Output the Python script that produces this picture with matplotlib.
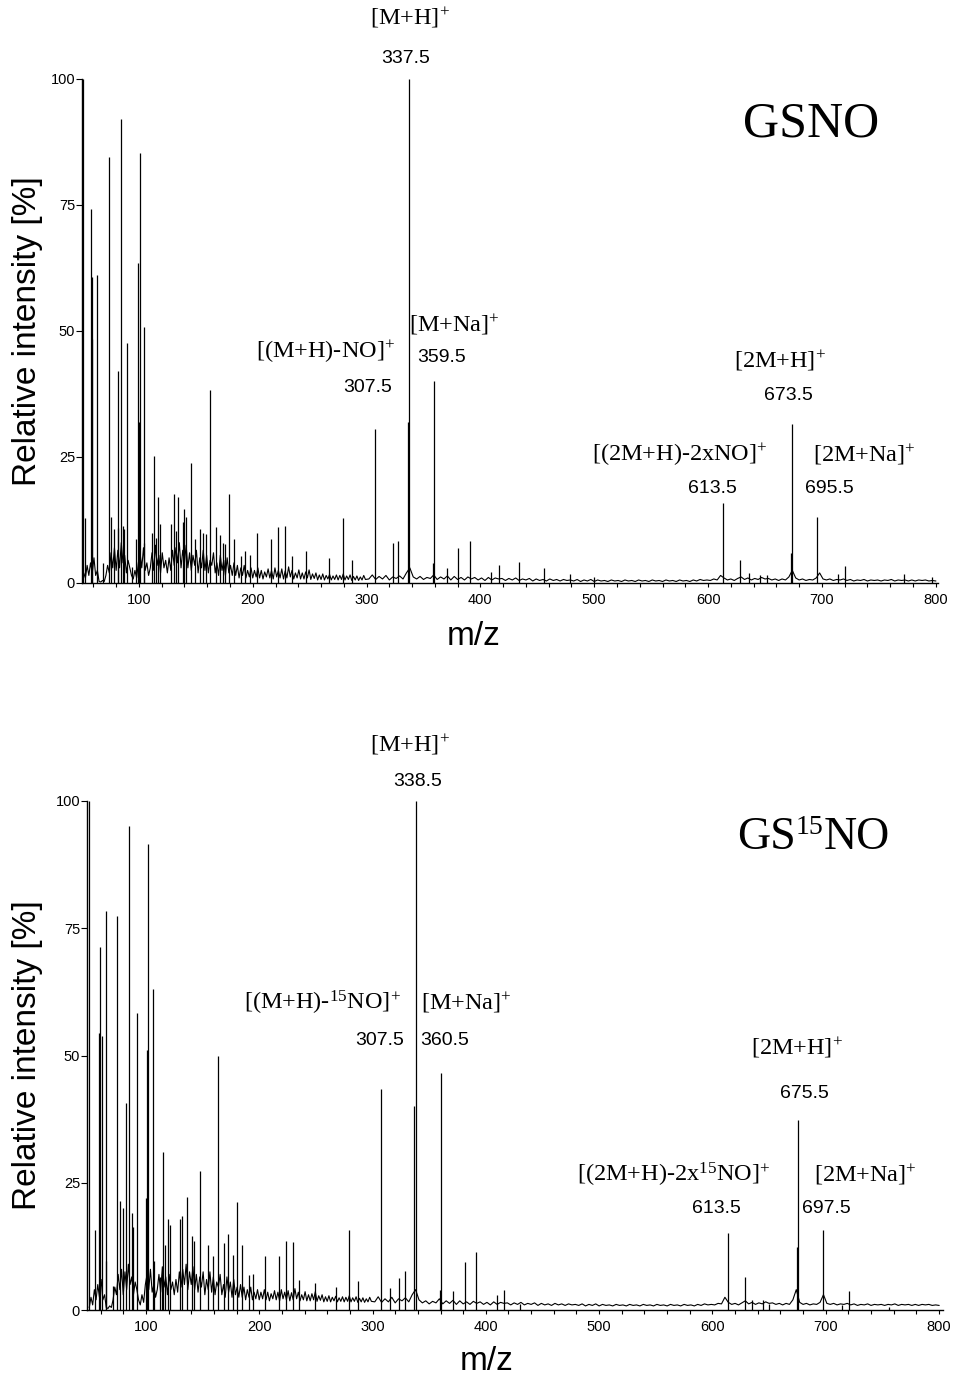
import numpy as np
import matplotlib
matplotlib.use('Agg')
import matplotlib.pyplot as plt
from matplotlib.ticker import MultipleLocator

plt.rcParams['font.family'] = ['Liberation Sans', 'DejaVu Sans']
plt.rcParams['mathtext.fontset'] = 'custom'
plt.rcParams['mathtext.rm'] = 'Liberation Serif'
plt.rcParams['mathtext.it'] = 'Liberation Serif:italic'
plt.rcParams['mathtext.bf'] = 'Liberation Serif:bold'

SERIF = 'Liberation Serif'

# ---------------- GSNO (top) ----------------
gsno_peak_mz = [50.5, 53, 58.2, 58.8, 59.1, 63.2, 68.5, 73.5, 75.2, 77.9, 81.4, 82,
                84, 86, 87.3, 89.9, 94, 97.8, 99.6, 100.4, 101.3, 104.3, 104.8, 111.3,
                113.4, 114.8, 117.2, 118.6, 128.3, 131, 133, 134.2, 138.3, 140, 141,
                145.6, 149.1, 153.5, 156.5, 158.5, 162.6, 167.3, 171.4, 173.5, 175.8,
                179, 183.4, 189.6, 193.1, 197.5, 203.7, 216, 222.2, 228.3, 234.2,
                246.8, 267, 279, 287, 307.5, 323, 328, 336, 337.5, 358.5, 359.5,
                371, 380.3, 391, 409, 416.7, 434.3, 455.9, 478.4, 500,
                613.5, 627.9, 635.6, 646, 652, 672.5, 673.5, 695.5, 714, 720, 772, 797]
gsno_peak_int = [100, 12.8, 74.3, 60.7, 48.4, 61.2, 4, 84.6, 13, 10.7, 11, 42,
                 92, 11.4, 10.7, 47.7, 3.2, 8.7, 63.4, 32, 85.3, 50.8, 8, 10,
                 25.1, 9, 17, 11.8, 11.8, 17.7, 10.4, 17, 12.1, 14.6, 13,
                 23.9, 8.7, 10.7, 10, 9.7, 38.2, 11.1, 9.5, 8, 7.7,
                 17.7, 8.7, 5.3, 6.3, 5.6, 9.9, 8.7, 11.1, 11.4, 5.3,
                 6.3, 4.9, 12.8, 4.6, 30.6, 8, 8.3, 32, 100, 4, 40,
                 3, 7, 8.3, 2.2, 3.5, 4.1, 3, 1.7, 1.1,
                 15.8, 4.5, 2, 1.5, 1.5, 6, 31.5, 13, 1.8, 3.3, 1.7, 1.2]

# baseline noise: every 1.5 m/z from 50 to 299, then every 3 m/z from 302 to 800
gsno_base_lo = [
    0.5, 2.0, 1.0, 3.5, 1.5, 4.0, 2.0, 5.0, 1.5, 2.5,
    0.3, 0.2, 0.5, 0.3, 1.5, 3.5, 2.0, 6.0, 3.0, 7.0,
    2.5, 6.5, 3.0, 8.0, 4.0, 5.5, 2.0, 4.5, 3.0, 1.5,
    0.8, 2.5, 1.0, 4.0, 6.0, 3.0, 7.0, 2.5, 4.0, 1.5,
    3.0, 6.0, 2.5, 7.5, 3.5, 5.5, 2.0, 6.0, 3.0, 4.5,
    2.0, 5.0, 2.5, 6.5, 3.5, 7.0, 4.0, 8.0, 3.0, 6.5,
    4.0, 7.5, 3.0, 6.0, 2.5, 5.5, 3.5, 6.5, 2.0, 5.0,
    3.0, 6.5, 2.5, 5.5, 2.0, 4.5, 3.5, 6.0, 2.0, 4.0,
    1.5, 5.5, 2.5, 4.5, 1.5, 5.0, 2.0, 3.5, 1.5, 4.0,
    1.5, 3.5, 1.0, 3.0, 1.5, 3.5, 1.0, 2.5, 1.2, 3.0,
    1.0, 2.5, 1.2, 3.0, 1.0, 2.5, 0.8, 2.2, 1.2, 2.8,
    1.0, 2.5, 0.8, 3.0, 1.2, 2.5, 1.0, 2.8, 0.8, 2.4,
    1.0, 3.2, 1.2, 2.5, 0.8, 2.0, 1.0, 2.6, 0.8, 2.0,
    0.8, 2.2, 1.0, 2.6, 0.7, 1.8, 0.9, 2.0, 0.6, 1.6,
    0.7, 1.8, 0.6, 1.5, 0.8, 1.7, 0.6, 1.4, 0.7, 1.6,
    0.6, 1.5, 0.7, 1.8, 0.6, 1.4, 0.7, 1.6, 0.5, 1.3,
    0.6, 1.4, 0.5, 1.2, 0.6, 1.5, 0.7]
gsno_base_hi = [
    0.8, 1.6, 0.7, 1.3, 0.8, 1.5, 0.6, 1.2, 0.9, 1.4,
    0.8, 2.0, 3.0, 1.2, 0.8, 1.3, 0.7, 1.1, 0.9, 1.6,
    0.7, 1.2, 0.8, 1.4, 0.6, 1.3, 0.7, 1.1, 0.6, 1.2,
    0.8, 1.1, 0.6, 1.0, 0.5, 1.1, 0.6, 1.0, 0.8, 0.9,
    0.5, 0.9, 0.6, 1.0, 0.5, 0.8, 0.6, 0.9, 0.4, 0.8,
    0.5, 0.7, 0.4, 0.8, 0.5, 0.7, 0.4, 0.7, 0.5, 0.6,
    0.4, 0.7, 0.3, 0.6, 0.4, 0.7, 0.3, 0.6, 0.4, 0.5,
    0.3, 0.6, 0.4, 0.5, 0.3, 0.6, 0.4, 0.5, 0.3, 0.6,
    0.4, 0.5, 0.3, 0.6, 0.4, 0.5, 0.3, 0.6, 0.4, 0.5,
    0.3, 0.6, 0.4, 0.5, 0.3, 0.6, 0.4, 0.7, 0.5, 0.6,
    0.5, 0.8, 0.6, 1.5, 1.0, 0.6, 0.8, 0.5, 0.9, 1.2,
    0.7, 1.0, 0.6, 0.9, 0.7, 1.1, 0.8, 0.9, 0.6, 0.8,
    0.5, 0.8, 0.6, 1.2, 2.5, 1.0, 0.6, 0.8, 0.5, 0.7,
    0.6, 1.0, 2.0, 0.8, 0.6, 0.8, 0.5, 0.7, 0.6, 0.8,
    0.5, 0.7, 0.4, 0.6, 0.5, 0.7, 0.4, 0.6, 0.5, 0.6,
    0.4, 0.6, 0.5, 0.7, 0.4, 0.6, 0.5, 0.6, 0.4, 0.6,
    0.4, 0.6, 0.5, 0.6, 0.4, 0.5, 0.4]

# ---------------- GS15NO (bottom) ----------------
gs15no_peak_mz = [49.5, 55.3, 59, 59.9, 60.8, 64.8, 65.2, 70.6, 74.4, 77.3, 80, 82.8,
                  85.2, 88, 88.9, 91.8, 100.3, 101.2, 102, 106, 107.2, 112.5, 114.2,
                  115.3, 116.7, 119.1, 120.9, 129.9, 132.2, 136, 140.9, 142.3, 147.3,
                  154.8, 158.9, 163.5, 169, 172.8, 177.2, 180, 185, 190.8, 194.9,
                  205, 217.5, 223.6, 229.4, 235.2, 249.2, 267.5, 279.4, 287.5,
                  307.5, 315, 323.5, 328.7, 337, 338.5, 359.5, 360.5, 371, 382,
                  391.3, 409.6, 415.9, 430,
                  613.5, 629, 635, 644.6, 650, 674.5, 675.5, 697.5, 714, 720.6, 756]
gs15no_peak_int = [100, 15.8, 54.5, 71.4, 53.9, 78.3, 9.7, 4.7, 77.4, 21.5, 20, 40.6,
                   95, 19, 16.4, 58.4, 22, 51, 91.5, 63, 9.7, 6.5, 7,
                   31, 12.8, 17.8, 16.7, 17.8, 18.5, 22.2, 14.5, 13.5, 27.3,
                   12.7, 10.6, 50, 13.2, 15, 10.9, 21.3, 12.7, 6.8, 7,
                   10.7, 10.6, 13.5, 13.4, 5.8, 5.4, 4.5, 15.8, 5.6,
                   43.5, 4.4, 6.3, 7.6, 40, 100, 4, 46.5, 3.7, 9.4,
                   11.3, 2.9, 3.9, 1.2,
                   15.1, 6.5, 2, 2, 1.2, 12.4, 37.4, 15.7, 1, 3.7, 0.6]

gs15no_base_lo = [
    0.5, 2.5, 1.0, 4.0, 2.0, 5.0, 2.5, 6.0, 2.0, 3.0,
    0.5, 0.3, 0.8, 0.5, 2.0, 4.5, 3.0, 7.0, 4.0, 8.0,
    3.0, 7.5, 4.0, 9.0, 5.0, 6.5, 3.0, 5.5, 4.0, 2.0,
    1.0, 3.0, 1.5, 5.0, 7.0, 4.0, 8.0, 3.5, 5.0, 2.5,
    4.0, 7.0, 3.5, 8.5, 4.5, 6.5, 3.0, 7.0, 4.0, 5.5,
    3.0, 6.0, 3.5, 7.5, 4.5, 8.0, 5.0, 9.0, 4.0, 7.5,
    5.0, 8.5, 4.0, 7.0, 3.5, 6.5, 4.5, 7.5, 3.0, 6.0,
    4.0, 7.5, 3.5, 6.5, 3.0, 5.5, 4.5, 7.0, 3.0, 5.0,
    2.5, 6.5, 3.5, 5.5, 2.5, 6.0, 3.0, 4.5, 2.5, 5.0,
    2.5, 4.5, 2.0, 4.0, 2.5, 4.5, 2.0, 3.5, 2.2, 4.0,
    2.0, 3.5, 2.2, 4.0, 2.0, 3.5, 1.8, 3.2, 2.2, 3.8,
    2.0, 3.5, 1.8, 4.0, 2.2, 3.5, 2.0, 3.8, 1.8, 3.4,
    2.0, 4.2, 2.2, 3.5, 1.8, 3.0, 2.0, 3.6, 1.8, 3.0,
    1.8, 3.2, 2.0, 3.6, 1.7, 2.8, 1.9, 3.0, 1.6, 2.6,
    1.7, 2.8, 1.6, 2.5, 1.8, 2.7, 1.6, 2.4, 1.7, 2.6,
    1.6, 2.5, 1.7, 2.8, 1.6, 2.4, 1.7, 2.6, 1.5, 2.3,
    1.6, 2.4, 1.5, 2.2, 1.6, 2.5, 1.7]
gs15no_base_hi = [
    1.6, 2.6, 1.5, 2.2, 1.6, 2.5, 1.4, 2.2, 1.8, 2.4,
    1.6, 3.0, 4.0, 2.0, 1.4, 1.8, 1.2, 1.7, 1.4, 2.2,
    1.2, 1.8, 1.3, 1.9, 1.1, 1.8, 1.2, 1.6, 1.1, 1.7,
    1.3, 1.6, 1.1, 1.5, 1.0, 1.6, 1.1, 1.5, 1.3, 1.4,
    1.0, 1.4, 1.1, 1.5, 1.0, 1.3, 1.1, 1.4, 0.9, 1.3,
    1.0, 1.2, 0.9, 1.3, 1.0, 1.2, 0.9, 1.2, 1.0, 1.1,
    0.9, 1.2, 0.8, 1.1, 0.9, 1.2, 0.8, 1.1, 0.9, 1.0,
    0.8, 1.1, 0.9, 1.0, 0.8, 1.1, 0.9, 1.0, 0.8, 1.1,
    0.9, 1.0, 0.8, 1.1, 0.9, 1.0, 0.8, 1.1, 0.9, 1.0,
    0.8, 1.1, 0.9, 1.0, 0.8, 1.1, 0.9, 1.2, 1.0, 1.1,
    1.0, 1.3, 1.2, 2.5, 1.5, 1.1, 1.3, 1.0, 1.4, 1.8,
    1.2, 1.5, 1.1, 1.4, 1.2, 1.6, 1.3, 1.4, 1.1, 1.3,
    1.0, 1.3, 1.1, 2.0, 4.0, 1.5, 1.1, 1.3, 1.0, 1.2,
    1.1, 1.5, 3.0, 1.3, 1.1, 1.3, 1.0, 1.2, 1.1, 1.3,
    1.0, 1.2, 0.9, 1.1, 1.0, 1.2, 0.9, 1.1, 1.0, 1.1,
    0.9, 1.1, 1.0, 1.2, 0.9, 1.1, 1.0, 1.1, 0.9, 1.1,
    0.9, 1.1, 1.0, 1.1, 0.9, 1.0, 0.9]

# annotation labels: (text, m/z, intensity, style)
gsno_labels = [
    (r'[M+H]$^{+}$', 338.2, 112.1, 'ion'), ('337.5', 334.7, 104.0, 'num'),
    (r'[(M+H)-NO]$^{+}$', 264.4, 45.8, 'ion'), ('307.5', 301.3, 38.7, 'num'),
    (r'[M+Na]$^{+}$', 376.9, 51.2, 'ion'), ('359.5', 365.5, 44.8, 'num'),
    (r'[2M+H]$^{+}$', 663.4, 44.0, 'ion'), ('673.5', 670.4, 37.3, 'num'),
    (r'[(2M+H)-2xNO]$^{+}$', 575.5, 25.4, 'ion'), ('613.5', 603.6, 18.8, 'num'),
    (r'[2M+Na]$^{+}$', 737.2, 25.4, 'ion'), ('695.5', 706.4, 18.8, 'num'),
]
gs15no_labels = [
    (r'[M+H]$^{+}$', 333.1, 111.0, 'ion'), ('338.5', 340.1, 103.9, 'num'),
    (r'[(M+H)-$^{15}$NO]$^{+}$', 255.4, 60.3, 'ion'), ('307.5', 306.6, 53.0, 'num'),
    (r'[M+Na]$^{+}$', 382.5, 60.3, 'ion'), ('360.5', 364.0, 53.0, 'num'),
    (r'[2M+H]$^{+}$', 674.7, 51.5, 'ion'), ('675.5', 680.9, 42.6, 'num'),
    (r'[(2M+H)-2x$^{15}$NO]$^{+}$', 566.1, 26.5, 'ion'), ('613.5', 603.2, 20.0, 'num'),
    (r'[2M+Na]$^{+}$', 734.7, 26.5, 'ion'), ('697.5', 700.3, 20.0, 'num'),
]


def draw_spectrum(ax, peak_mz, peak_int, base_lo, base_hi, labels, xlim,
                  ylab_x, mz_xy):
    base_mz = np.concatenate([50 + 1.5 * np.arange(len(base_lo)),
                              302 + 3 * np.arange(len(base_hi))])
    base = np.concatenate([base_lo, base_hi])
    ax.plot(base_mz, base, color='black', linewidth=0.8)
    ax.vlines(peak_mz, 0, peak_int, color='black', linewidth=0.9)

    ax.set_xlim(*xlim)
    ax.set_ylim(0, 100)
    for side in ['top', 'right']:
        ax.spines[side].set_visible(False)
    for side in ['left', 'bottom']:
        ax.spines[side].set_linewidth(1.0)
    ax.set_xticks(range(100, 801, 100))
    ax.xaxis.set_minor_locator(MultipleLocator(20))
    ax.set_yticks([0, 25, 50, 75, 100])
    ax.tick_params(axis='x', which='both', direction='out', length=3,
                   width=0.8, labelsize=10.5, pad=4)
    ax.tick_params(axis='y', direction='out', length=4, width=0.8,
                   labelsize=10.5, pad=1)

    ax.text(ylab_x, 0.5, 'Relative intensity [%]', transform=ax.transAxes,
            rotation=90, ha='center', va='center', fontsize=24)
    ax.text(mz_xy[0], mz_xy[1], 'm/z', transform=ax.transAxes,
            ha='center', va='center', fontsize=24)

    for txt, x, y, kind in labels:
        if kind == 'ion':
            ax.text(x, y, txt, ha='center', va='center', fontsize=17.5,
                    family=SERIF, clip_on=False)
        else:
            ax.text(x, y, txt, ha='center', va='center', fontsize=14,
                    clip_on=False)


fig = plt.figure(figsize=(9.57, 13.76), dpi=100)
W, H = 957, 1376
ax1 = fig.add_axes([82 / W, 1 - 583 / H, 856 / W, 504 / H])
ax2 = fig.add_axes([87 / W, 1 - 1310 / H, 856 / W, 509 / H])

draw_spectrum(ax1, gsno_peak_mz, gsno_peak_int, gsno_base_lo, gsno_base_hi,
              gsno_labels, (50, 802), -0.064, (0.457, -0.107))
draw_spectrum(ax2, gs15no_peak_mz, gs15no_peak_int, gs15no_base_lo, gs15no_base_hi,
              gs15no_labels, (48, 803.5), -0.069, (0.467, -0.102))

# compound names
ax1.text(690.6, 91.1, 'GSNO', ha='center', va='center', fontsize=36,
         family=SERIF)
t_gs = ax2.text(673.5, 90.6, 'GS', ha='right', va='baseline', fontsize=33,
                family=SERIF)
t_15 = ax2.annotate('15', xy=(1.0, 1.02), xycoords=t_gs, ha='left', va='top',
                    fontsize=20, family=SERIF)
ax2.annotate('NO', xy=(1.0, 0.0), xycoords=(t_15, t_gs), ha='left',
             va='bottom', fontsize=33, family=SERIF)

fig.savefig('out.png', dpi=100, facecolor='white')
plt.close(fig)
